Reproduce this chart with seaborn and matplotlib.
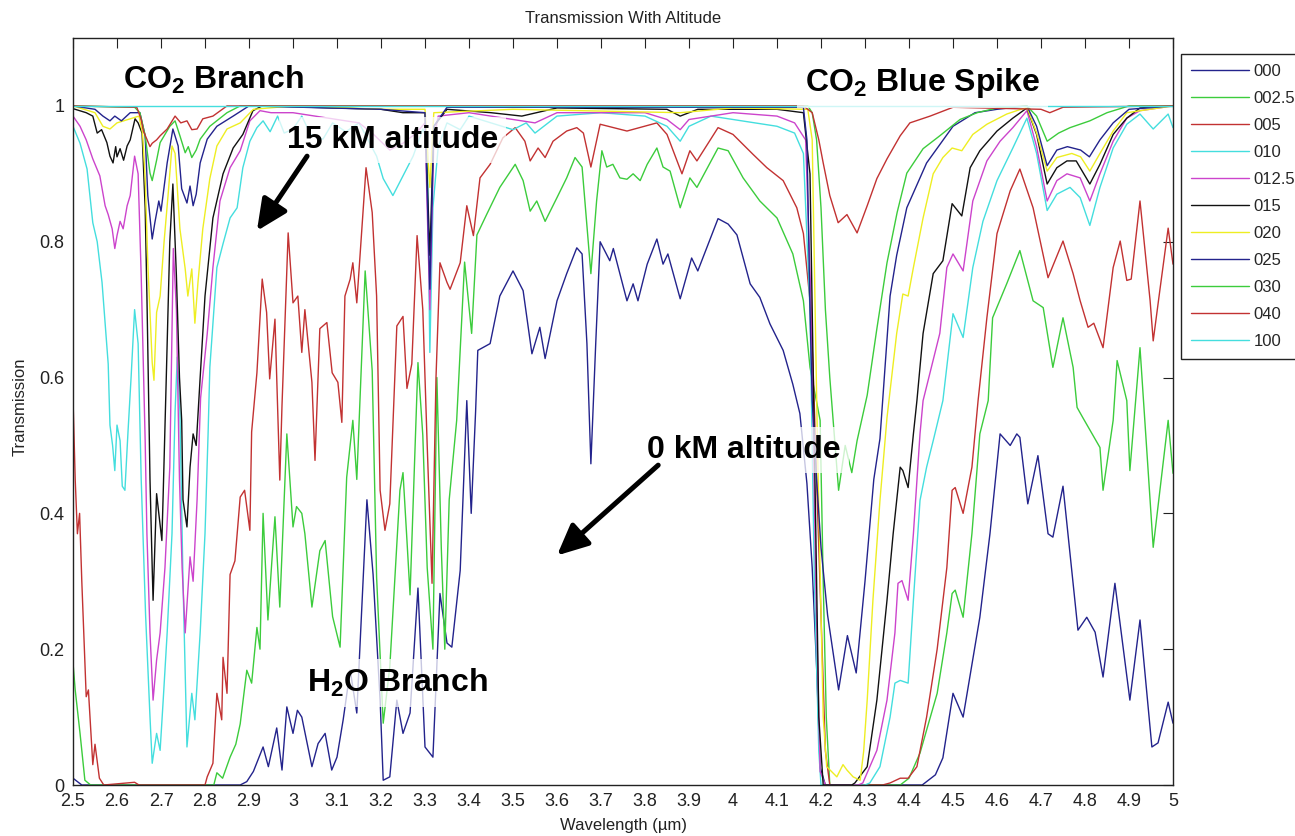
import numpy as np
import pandas as pd
import matplotlib
matplotlib.use("Agg")
import matplotlib.pyplot as plt
import seaborn as sns
from matplotlib.patches import ArrowStyle

# ---------------- data (wavelength um, transmission) ----------------
LABELS = ['000', '002.5', '005', '010', '012.5', '015', '020', '025', '030', '040', '100']
COLORS = ['#23238c', '#3ccc3c', '#c23232', '#44dede', '#cc44cc', '#111111',
          '#eeee22', '#23238c', '#3ccc3c', '#c23232', '#44dede']

S_000 = [(2.50,0.01),(2.52,0.0),(2.88,0.0),(2.895,0.005),(2.91,0.02),(2.932,0.056),(2.944,0.027),
         (2.963,0.084),(2.975,0.022),(2.986,0.115),(3.0,0.076),(3.01,0.11),(3.02,0.10),(3.043,0.027),
         (3.057,0.061),(3.073,0.076),(3.088,0.022),(3.1,0.041),(3.114,0.096),(3.13,0.169),(3.145,0.106),
         (3.168,0.42),(3.182,0.31),(3.198,0.125),(3.205,0.007),(3.22,0.012),(3.236,0.125),(3.25,0.076),
         (3.266,0.106),(3.284,0.29),(3.30,0.056),(3.318,0.041),(3.334,0.282),(3.35,0.209),(3.361,0.203),
         (3.38,0.316),(3.395,0.566),(3.405,0.40),(3.415,0.55),(3.42,0.64),(3.448,0.65),(3.47,0.72),
         (3.5,0.757),(3.523,0.728),(3.543,0.635),(3.561,0.674),(3.573,0.628),(3.6,0.713),(3.622,0.753),
         (3.645,0.791),(3.657,0.782),(3.668,0.65),(3.677,0.473),(3.688,0.65),(3.698,0.80),(3.72,0.772),
         (3.728,0.79),(3.759,0.713),(3.773,0.738),(3.784,0.713),(3.805,0.767),(3.827,0.804),(3.841,0.767),
         (3.852,0.782),(3.88,0.716),(3.906,0.776),(3.92,0.757),(3.966,0.834),(3.989,0.826),(4.009,0.81),
         (4.039,0.738),(4.061,0.718),(4.084,0.679),(4.114,0.64),(4.136,0.59),(4.152,0.547),(4.168,0.444),
         (4.18,0.32),(4.19,0.174),(4.198,0.026),(4.21,0.0),(4.43,0.0),(4.46,0.015),(4.477,0.04),
         (4.5,0.135),(4.523,0.10),(4.561,0.247),(4.584,0.37),(4.607,0.517),(4.63,0.50),(4.645,0.517),
         (4.652,0.512),(4.67,0.414),(4.693,0.485),(4.716,0.37),(4.727,0.365),(4.75,0.44),(4.784,0.228),
         (4.804,0.247),(4.823,0.225),(4.841,0.159),(4.868,0.297),(4.902,0.125),(4.925,0.243),
         (4.952,0.056),(4.966,0.062),(4.989,0.122),(5.0,0.091)]

S_0025 = [(2.50,0.18),(2.505,0.14),(2.516,0.076),(2.527,0.007),(2.54,0.0),(2.82,0.0),(2.827,0.018),
          (2.84,0.01),(2.857,0.041),(2.87,0.06),(2.88,0.09),(2.895,0.169),(2.906,0.15),(2.918,0.232),
          (2.925,0.2),(2.932,0.40),(2.943,0.243),(2.952,0.33),(2.959,0.395),(2.97,0.262),(2.986,0.517),
          (3.0,0.38),(3.008,0.41),(3.02,0.40),(3.027,0.37),(3.043,0.262),(3.061,0.345),(3.073,0.36),
          (3.09,0.248),(3.107,0.203),(3.122,0.453),(3.136,0.537),(3.145,0.45),(3.164,0.757),(3.18,0.61),
          (3.19,0.306),(3.205,0.091),(3.22,0.174),(3.243,0.434),(3.25,0.46),(3.259,0.36),(3.266,0.28),
          (3.284,0.622),(3.295,0.515),(3.305,0.32),(3.318,0.2),(3.327,0.6),(3.337,0.35),(3.345,0.2),
          (3.355,0.42),(3.372,0.537),(3.39,0.77),(3.406,0.665),(3.418,0.81),(3.44,0.84),(3.47,0.88),
          (3.505,0.914),(3.523,0.89),(3.539,0.845),(3.554,0.86),(3.573,0.83),(3.6,0.865),(3.622,0.894),
          (3.641,0.924),(3.657,0.91),(3.677,0.753),(3.69,0.86),(3.702,0.934),(3.713,0.91),(3.727,0.914),
          (3.743,0.894),(3.759,0.892),(3.773,0.90),(3.789,0.89),(3.805,0.914),(3.827,0.938),(3.841,0.91),
          (3.857,0.904),(3.88,0.85),(3.902,0.894),(3.918,0.88),(3.966,0.938),(3.989,0.934),(4.023,0.894),
          (4.061,0.86),(4.10,0.835),(4.136,0.782),(4.16,0.713),(4.175,0.615),(4.198,0.537),(4.205,0.3),
          (4.212,0.1),(4.22,0.0),(4.38,0.0),(4.40,0.01),(4.425,0.047),(4.464,0.135),(4.486,0.224),
          (4.498,0.282),(4.505,0.287),(4.523,0.247),(4.543,0.37),(4.561,0.517),(4.58,0.566),(4.59,0.688),
          (4.622,0.738),(4.652,0.787),(4.682,0.713),(4.705,0.703),(4.727,0.615),(4.75,0.688),(4.773,0.615),
          (4.782,0.556),(4.795,0.541),(4.834,0.497),(4.841,0.434),(4.864,0.537),(4.873,0.625),(4.895,0.566),
          (4.902,0.463),(4.925,0.644),(4.955,0.35),(4.989,0.537),(5.0,0.459)]

S_005 = [(2.50,0.57),(2.505,0.45),(2.51,0.37),(2.515,0.40),(2.52,0.30),(2.53,0.13),(2.535,0.14),
         (2.545,0.03),(2.55,0.06),(2.56,0.01),(2.57,0.0),(2.64,0.004),(2.65,0.0),(2.80,0.0),(2.805,0.012),
         (2.818,0.032),(2.827,0.135),(2.838,0.096),(2.841,0.188),(2.85,0.135),(2.857,0.31),(2.868,0.33),
         (2.88,0.424),(2.89,0.434),(2.902,0.375),(2.906,0.52),(2.918,0.607),(2.93,0.745),(2.94,0.696),
         (2.947,0.598),(2.959,0.686),(2.97,0.449),(2.975,0.559),(2.989,0.813),(3.0,0.71),(3.011,0.72),
         (3.02,0.637),(3.027,0.70),(3.043,0.593),(3.05,0.478),(3.061,0.672),(3.077,0.681),(3.089,0.607),
         (3.102,0.593),(3.111,0.534),(3.118,0.72),(3.13,0.745),(3.136,0.769),(3.145,0.71),(3.166,0.909),
         (3.18,0.843),(3.19,0.72),(3.198,0.434),(3.209,0.375),(3.22,0.414),(3.236,0.676),(3.25,0.69),
         (3.259,0.584),(3.27,0.62),(3.282,0.809),(3.295,0.70),(3.305,0.5),(3.316,0.297),(3.325,0.6),
         (3.334,0.769),(3.35,0.74),(3.357,0.73),(3.38,0.769),(3.395,0.853),(3.41,0.809),(3.425,0.894),
         (3.448,0.914),(3.477,0.953),(3.505,0.968),(3.527,0.948),(3.539,0.919),(3.557,0.938),(3.573,0.924),
         (3.591,0.948),(3.622,0.963),(3.645,0.968),(3.66,0.96),(3.677,0.91),(3.698,0.973),(3.759,0.963),
         (3.827,0.975),(3.85,0.958),(3.884,0.90),(3.902,0.934),(3.918,0.919),(3.966,0.968),(4.0,0.958),
         (4.045,0.929),(4.077,0.909),(4.114,0.89),(4.145,0.85),(4.16,0.812),(4.175,0.713),(4.182,0.615),
         (4.19,0.45),(4.2,0.25),(4.21,0.05),(4.22,0.0),(4.34,0.0),(4.357,0.003),(4.38,0.01),(4.398,0.01),
         (4.418,0.027),(4.44,0.10),(4.464,0.20),(4.486,0.32),(4.498,0.434),(4.505,0.438),(4.523,0.40),
         (4.543,0.468),(4.557,0.566),(4.577,0.688),(4.60,0.812),(4.63,0.875),(4.652,0.907),(4.682,0.85),
         (4.716,0.747),(4.75,0.801),(4.773,0.753),(4.789,0.713),(4.807,0.674),(4.82,0.68),(4.841,0.644),
         (4.864,0.762),(4.88,0.801),(4.895,0.743),(4.905,0.745),(4.925,0.86),(4.948,0.713),(4.955,0.654),
         (4.97,0.728),(4.989,0.82),(5.0,0.767)]

S_010 = [(2.50,0.97),(2.516,0.945),(2.532,0.907),(2.545,0.828),(2.555,0.80),(2.566,0.74),(2.573,0.68),
         (2.58,0.62),(2.584,0.53),(2.59,0.50),(2.595,0.463),(2.60,0.53),(2.607,0.507),(2.612,0.44),
         (2.618,0.434),(2.625,0.52),(2.632,0.60),(2.64,0.70),(2.648,0.65),(2.655,0.45),(2.665,0.25),
         (2.675,0.10),(2.68,0.032),(2.69,0.076),(2.698,0.051),(2.705,0.125),(2.714,0.224),(2.725,0.37),
         (2.732,0.55),(2.737,0.63),(2.743,0.55),(2.75,0.3),(2.759,0.056),(2.77,0.135),(2.777,0.096),
         (2.789,0.224),(2.80,0.37),(2.807,0.517),(2.811,0.615),(2.827,0.762),(2.841,0.797),(2.857,0.835),
         (2.873,0.85),(2.886,0.909),(2.902,0.948),(2.918,0.968),(2.932,0.978),(2.948,0.962),(2.965,0.985),
         (2.98,0.96),(3.0,0.966),(3.02,0.985),(3.04,0.958),(3.068,0.951),(3.09,0.975),(3.12,0.962),
         (3.15,0.975),(3.19,0.926),(3.205,0.893),(3.227,0.868),(3.25,0.897),(3.273,0.926),(3.295,0.966),
         (3.305,0.95),(3.311,0.637),(3.318,0.85),(3.33,0.94),(3.35,0.975),(3.38,0.965),(3.40,0.985),
         (3.45,0.975),(3.5,0.965),(3.53,0.975),(3.55,0.96),(3.6,0.985),(3.7,0.99),(3.8,0.985),(3.85,0.97),
         (3.88,0.948),(3.9,0.97),(3.95,0.985),(4.0,0.98),(4.05,0.975),(4.1,0.97),(4.14,0.96),(4.16,0.93),
         (4.175,0.70),(4.185,0.30),(4.195,0.05),(4.20,0.0),(4.30,0.0),(4.311,0.003),(4.334,0.027),
         (4.357,0.10),(4.368,0.15),(4.38,0.154),(4.398,0.15),(4.41,0.272),(4.425,0.419),(4.44,0.468),
         (4.455,0.507),(4.477,0.566),(4.5,0.694),(4.523,0.659),(4.545,0.762),(4.568,0.83),(4.6,0.89),
         (4.636,0.938),(4.668,0.982),(4.69,0.93),(4.714,0.846),(4.736,0.87),(4.766,0.88),(4.789,0.865),
         (4.811,0.824),(4.834,0.88),(4.864,0.938),(4.895,0.973),(4.925,0.988),(4.955,0.966),(4.989,0.988),
         (5.0,0.968)]

S_0125 = [(2.50,0.985),(2.516,0.97),(2.53,0.95),(2.545,0.922),(2.561,0.897),(2.573,0.853),(2.58,0.84),
          (2.589,0.819),(2.595,0.79),(2.60,0.809),(2.607,0.83),(2.614,0.819),(2.623,0.853),(2.63,0.868),
          (2.64,0.926),(2.648,0.90),(2.655,0.75),(2.664,0.507),(2.668,0.37),(2.675,0.224),(2.682,0.125),
          (2.69,0.184),(2.698,0.224),(2.709,0.32),(2.72,0.468),(2.728,0.79),(2.735,0.70),(2.742,0.45),
          (2.748,0.32),(2.755,0.224),(2.766,0.336),(2.773,0.30),(2.782,0.42),(2.79,0.57),(2.805,0.664),
          (2.818,0.762),(2.834,0.86),(2.857,0.909),(2.88,0.934),(2.902,0.978),(2.925,0.993),(2.95,0.99),
          (3.0,0.99),(3.05,0.985),(3.1,0.98),(3.15,0.975),(3.18,0.96),(3.22,0.935),(3.25,0.945),(3.28,0.96),
          (3.30,0.975),(3.311,0.70),(3.32,0.95),(3.33,0.985),(3.4,0.99),(3.45,0.985),(3.5,0.98),(3.55,0.975),
          (3.6,0.99),(3.8,0.99),(3.85,0.98),(3.88,0.965),(3.9,0.98),(4.0,0.99),(4.1,0.985),(4.14,0.975),
          (4.165,0.95),(4.178,0.70),(4.188,0.30),(4.198,0.02),(4.21,0.0),(4.285,0.0),(4.295,0.003),
          (4.327,0.051),(4.35,0.125),(4.368,0.224),(4.375,0.297),(4.384,0.301),(4.398,0.272),(4.41,0.37),
          (4.425,0.517),(4.432,0.566),(4.47,0.665),(4.486,0.762),(4.5,0.782),(4.523,0.757),(4.545,0.86),
          (4.577,0.919),(4.607,0.948),(4.636,0.968),(4.668,0.993),(4.69,0.94),(4.714,0.86),(4.736,0.89),
          (4.759,0.90),(4.789,0.894),(4.811,0.86),(4.834,0.90),(4.864,0.948),(4.895,0.982),(4.925,0.993),
          (5.0,1.0)]

S_015 = [(2.50,0.996),(2.53,0.99),(2.545,0.985),(2.555,0.96),(2.565,0.965),(2.577,0.946),(2.584,0.926),
         (2.591,0.916),(2.597,0.94),(2.60,0.925),(2.607,0.937),(2.615,0.92),(2.623,0.941),(2.63,0.95),
         (2.641,0.981),(2.648,0.975),(2.657,0.96),(2.664,0.85),(2.668,0.72),(2.675,0.45),(2.68,0.32),
         (2.682,0.272),(2.69,0.429),(2.695,0.40),(2.702,0.36),(2.705,0.429),(2.712,0.60),(2.72,0.80),
         (2.727,0.885),(2.735,0.75),(2.742,0.60),(2.747,0.537),(2.75,0.42),(2.759,0.38),(2.766,0.468),
         (2.773,0.517),(2.78,0.50),(2.789,0.60),(2.80,0.72),(2.818,0.835),(2.841,0.90),(2.864,0.938),
         (2.886,0.958),(2.909,0.993),(2.93,1.0),(3.2,0.995),(3.25,0.99),(3.30,0.99),(3.311,0.78),
         (3.32,0.97),(3.35,0.995),(3.45,0.99),(3.52,0.985),(3.6,0.997),(3.85,0.995),(3.88,0.985),
         (3.92,0.995),(4.1,0.995),(4.16,0.99),(4.175,0.90),(4.185,0.50),(4.195,0.10),(4.205,0.0),
         (4.27,0.0),(4.277,0.003),(4.305,0.027),(4.327,0.125),(4.35,0.272),(4.364,0.37),(4.38,0.468),
         (4.386,0.463),(4.398,0.438),(4.41,0.517),(4.418,0.566),(4.432,0.665),(4.455,0.753),(4.477,0.772),
         (4.498,0.856),(4.52,0.838),(4.539,0.909),(4.561,0.934),(4.60,0.963),(4.636,0.982),(4.668,0.997),
         (4.69,0.958),(4.714,0.885),(4.736,0.909),(4.759,0.919),(4.78,0.919),(4.811,0.885),(4.834,0.914),
         (4.864,0.958),(4.895,0.982),(4.925,0.997),(5.0,1.0)]

S_020 = [(2.50,1.0),(2.55,0.99),(2.568,0.97),(2.584,0.966),(2.60,0.975),(2.63,0.981),(2.65,0.985),
         (2.658,0.96),(2.664,0.893),(2.67,0.769),(2.68,0.622),(2.684,0.596),(2.69,0.696),(2.698,0.72),
         (2.707,0.80),(2.716,0.868),(2.725,0.941),(2.732,0.93),(2.743,0.819),(2.755,0.76),(2.761,0.72),
         (2.77,0.76),(2.777,0.68),(2.784,0.74),(2.795,0.819),(2.811,0.893),(2.827,0.941),(2.85,0.966),
         (2.88,0.975),(2.91,0.995),(3.0,1.0),(3.2,0.995),(3.3,0.995),(3.311,0.88),(3.32,0.99),(3.5,0.995),
         (3.88,0.99),(4.0,0.997),(4.17,0.995),(4.18,0.95),(4.192,0.50),(4.205,0.10),(4.213,0.027),
         (4.236,0.012),(4.25,0.03),(4.259,0.022),(4.273,0.012),(4.289,0.007),(4.297,0.05),(4.305,0.125),
         (4.318,0.272),(4.334,0.419),(4.35,0.541),(4.372,0.665),(4.386,0.723),(4.398,0.72),(4.41,0.762),
         (4.432,0.835),(4.455,0.90),(4.477,0.924),(4.498,0.938),(4.52,0.934),(4.545,0.958),(4.577,0.973),
         (4.622,0.988),(4.668,0.998),(4.69,0.96),(4.714,0.904),(4.736,0.924),(4.77,0.93),(4.79,0.925),
         (4.811,0.904),(4.834,0.93),(4.864,0.963),(4.895,0.99),(5.0,1.0)]

S_025 = [(2.50,1.0),(2.55,0.995),(2.568,0.985),(2.584,0.978),(2.595,0.985),(2.61,0.978),(2.63,0.99),
         (2.652,0.99),(2.664,0.956),(2.67,0.868),(2.68,0.804),(2.686,0.828),(2.695,0.86),(2.70,0.845),
         (2.714,0.916),(2.727,0.966),(2.739,0.941),(2.747,0.878),(2.759,0.857),(2.766,0.882),(2.773,0.853),
         (2.78,0.87),(2.789,0.916),(2.805,0.951),(2.827,0.97),(2.864,0.985),(2.90,1.0),(3.2,0.995),
         (3.30,0.99),(3.311,0.73),(3.32,0.97),(3.35,0.998),(4.16,0.998),(4.168,0.95),(4.175,0.70),
         (4.18,0.566),(4.19,0.45),(4.20,0.35),(4.215,0.25),(4.24,0.14),(4.26,0.22),(4.28,0.165),(4.30,0.30),
         (4.32,0.45),(4.334,0.51),(4.357,0.72),(4.372,0.78),(4.395,0.85),(4.44,0.916),(4.5,0.97),
         (4.55,0.99),(4.60,0.995),(4.668,1.0),(4.69,0.97),(4.714,0.912),(4.736,0.935),(4.76,0.94),
         (4.79,0.935),(4.81,0.925),(4.834,0.95),(4.864,0.975),(4.90,0.995),(5.0,1.0)]

S_030 = [(2.50,1.0),(2.64,0.998),(2.652,0.99),(2.664,0.956),(2.675,0.901),(2.68,0.89),(2.69,0.92),
         (2.698,0.946),(2.72,0.97),(2.732,0.978),(2.743,0.956),(2.755,0.931),(2.762,0.94),(2.77,0.924),
         (2.78,0.935),(2.789,0.951),(2.811,0.97),(2.85,0.99),(2.88,1.0),(4.17,1.0),(4.18,0.99),(4.19,0.95),
         (4.20,0.85),(4.21,0.70),(4.22,0.60),(4.24,0.434),(4.255,0.50),(4.27,0.46),(4.282,0.507),
         (4.305,0.574),(4.327,0.672),(4.35,0.769),(4.373,0.843),(4.395,0.901),(4.432,0.937),(4.47,0.956),
         (4.516,0.98),(4.555,0.99),(4.60,0.997),(4.668,1.0),(4.69,0.985),(4.714,0.948),(4.74,0.96),
         (4.766,0.968),(4.811,0.978),(4.85,0.99),(4.90,1.0),(5.0,1.0)]

S_040 = [(2.50,1.0),(2.645,0.998),(2.655,0.98),(2.66,0.963),(2.675,0.94),(2.68,0.945),(2.69,0.95),
         (2.698,0.956),(2.714,0.966),(2.732,0.985),(2.745,0.975),(2.759,0.978),(2.77,0.965),(2.782,0.966),
         (2.795,0.981),(2.818,0.985),(2.85,1.0),(4.16,1.0),(4.18,0.99),(4.195,0.95),(4.205,0.916),
         (4.22,0.868),(4.239,0.828),(4.259,0.84),(4.282,0.813),(4.305,0.853),(4.327,0.893),(4.35,0.922),
         (4.38,0.956),(4.402,0.975),(4.448,0.985),(4.50,0.998),(4.70,0.995),(4.72,0.99),(4.75,0.998),
         (5.0,1.0)]

S_100 = [(2.50,1.0),(3.5,1.0),(4.5,1.0),(5.0,1.0)]

SERIES = [S_000, S_0025, S_005, S_010, S_0125, S_015, S_020, S_025, S_030, S_040, S_100]

XTICKS = [round(2.5 + 0.1 * i, 1) for i in range(26)]
YTICKS = [0, 0.2, 0.4, 0.6, 0.8, 1.0]

rows = []
for lab, s in zip(LABELS, SERIES):
    for w, t in s:
        rows.append((lab, w, t))
df = pd.DataFrame(rows, columns=['alt', 'w', 't'])

# ---------------- style ----------------
sns.set_style('white')
plt.rcParams['font.family'] = ['Liberation Sans', 'DejaVu Sans']
plt.rcParams['mathtext.fontset'] = 'custom'
plt.rcParams['mathtext.rm'] = 'Liberation Sans'
plt.rcParams['mathtext.bf'] = 'Liberation Sans:bold'
plt.rcParams['mathtext.it'] = 'Liberation Sans:italic'

W, H = 1295, 836
fig = plt.figure(figsize=(W / 100, H / 100), dpi=100)
fig.patch.set_facecolor('white')
ax = fig.add_axes([73 / W, 51 / H, 1100 / W, 747 / H])

sns.lineplot(data=df, x='w', y='t', hue='alt', hue_order=LABELS,
             palette=dict(zip(LABELS, COLORS)), estimator=None, sort=True,
             linewidth=1.0, ax=ax)

ax.set_xlim(2.5, 5.0)
ax.set_ylim(0, 1.1)
ax.set_xticks(XTICKS)
ax.set_xticklabels([f'{v:g}' for v in XTICKS])
ax.set_yticks(YTICKS)
ax.set_yticklabels([f'{v:g}' for v in YTICKS])
ax.tick_params(direction='in', top=True, right=True, length=7, width=0.8,
               labelsize=13, pad=6, colors='#222222')
for sp in ax.spines.values():
    sp.set_color('#222222')
    sp.set_linewidth(1.0)

ax.set_xlabel('Wavelength (\u00b5m)', fontsize=12, color='#222222')
ax.xaxis.set_label_coords(0.5, -0.044)
ax.set_ylabel('Transmission', fontsize=12, color='#222222')
ax.yaxis.set_label_coords(-0.041, 0.506)
ax.set_title('Transmission With Altitude', fontsize=12, color='#222222', y=1.0201, pad=0)

# legend
handles, labels = ax.get_legend_handles_labels()
ax.legend(handles, labels, loc='upper left', bbox_to_anchor=(1181 / W, 1 - 54 / H),
          bbox_transform=fig.transFigure, borderaxespad=0, fontsize=12,
          frameon=True, fancybox=False, edgecolor='#222222', framealpha=1,
          handlelength=3.45, handletextpad=0.3, labelspacing=0.72, borderpad=0.6)
ax.get_legend().get_frame().set_linewidth(1.0)

# annotations
box = dict(boxstyle='square,pad=0.25', fc='white', ec='none', alpha=0.75)
tkw = dict(fontsize=23, fontweight='bold', color='black', ha='left', va='baseline', bbox=box, zorder=20)
ax.text(2.614, 1.025, r'$\mathbf{CO_2}$ Branch', **tkw)
ax.text(2.986, 0.938, '15 kM altitude', **tkw)
ax.text(3.805, 0.482, '0 kM altitude', **tkw)
ax.text(3.032, 0.137, r'$\mathbf{H_2}$O Branch', **tkw)
ax.text(4.164, 1.022, r'$\mathbf{CO_2}$ Blue Spike', **tkw)

astyle = ArrowStyle('-|>', head_length=0.75, head_width=0.35)
akw = dict(arrowstyle=astyle, color='black', lw=3.6, mutation_scale=25, shrinkA=0, shrinkB=0)
ax.annotate('', xy=(2.918, 0.816), xytext=(3.032, 0.926), arrowprops=akw, zorder=21)
ax.annotate('', xy=(3.60, 0.338), xytext=(3.83, 0.471), arrowprops=akw, zorder=21)

fig.savefig('out.png', dpi=100, facecolor='white')
